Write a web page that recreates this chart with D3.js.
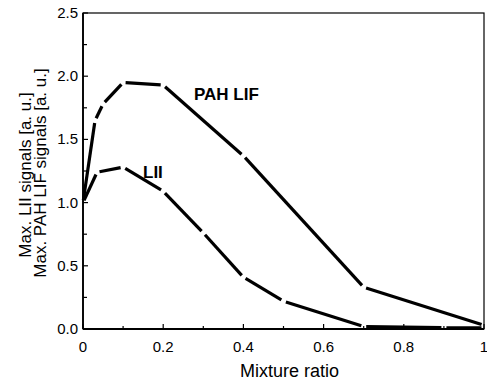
<!DOCTYPE html>
<html>
<head>
<meta charset="utf-8">
<script src="https://d3js.org/d3.v7.min.js"></script>
<style>
  body { margin: 0; background: #fff; }
  text { font-family: Arial, "Liberation Sans", sans-serif; fill: #000; }
</style>
</head>
<body>
<svg></svg>
<script>
// data
var pahX = [0, 0.03, 0.05, 0.1, 0.2, 0.4, 0.7, 1.0];
var pahY = [1.0, 1.65, 1.78, 1.95, 1.93, 1.37, 0.33, 0.03];
var liiX = [0, 0.035, 0.1, 0.2, 0.3, 0.4, 0.5, 0.7, 0.9, 1.0];
var liiY = [1.0, 1.24, 1.28, 1.09, 0.76, 0.41, 0.22, 0.02, 0.01, 0.01];
var xTicks = [0, 0.2, 0.4, 0.6, 0.8, 1];
var xTickLabels = ['0', '0.2', '0.4', '0.6', '0.8', '1'];
var yTicks = [0, 0.5, 1.0, 1.5, 2.0, 2.5];

var W = 487, H = 380;
var pl = 83, pr = 484, pt = 13, pb = 329;

var svg = d3.select('svg').attr('width', W).attr('height', H);

var x = d3.scaleLinear().domain([0, 1]).range([pl, pr]);
var y = d3.scaleLinear().domain([0, 2.5]).range([pb, pt]);

// frame
svg.append('rect')
    .attr('x', pl).attr('y', pt)
    .attr('width', pr - pl).attr('height', pb - pt)
    .attr('fill', 'none').attr('stroke', '#000').attr('stroke-width', 1.2);
svg.append('line') // heavier left/bottom
    .attr('x1', pl).attr('y1', pt).attr('x2', pl).attr('y2', pb)
    .attr('stroke', '#000').attr('stroke-width', 1.8);
svg.append('line')
    .attr('x1', pl).attr('y1', pb).attr('x2', pr).attr('y2', pb)
    .attr('stroke', '#000').attr('stroke-width', 1.8);

// inward ticks
var xt = d3.range(0, 1.0001, 0.1);
svg.selectAll('.xtick')
    .data(xt)
  .enter().append('line')
    .attr('x1', function(d) { return x(d); })
    .attr('x2', function(d) { return x(d); })
    .attr('y1', pb)
    .attr('y2', function(d, i) { return pb - (i % 2 ? 3 : 5); })
    .attr('stroke', '#000').attr('stroke-width', 1.2);

var yt = d3.range(0, 2.5001, 0.25);
svg.selectAll('.ytick')
    .data(yt)
  .enter().append('line')
    .attr('x1', pl)
    .attr('x2', function(d, i) { return pl + (i % 2 ? 4 : 5); })
    .attr('y1', function(d) { return y(d); })
    .attr('y2', function(d) { return y(d); })
    .attr('stroke', '#000').attr('stroke-width', 1.2);

// tick labels
svg.selectAll('.xlab')
    .data(xTicks)
  .enter().append('text')
    .attr('x', function(d) { return x(d); })
    .attr('y', pb + 23)
    .attr('text-anchor', 'middle')
    .style('font-size', '15px')
    .text(function(d, i) { return xTickLabels[i]; });

svg.selectAll('.ylab')
    .data(yTicks)
  .enter().append('text')
    .attr('x', pl - 5)
    .attr('y', function(d) { return y(d) + 5; })
    .attr('text-anchor', 'end')
    .style('font-size', '15px')
    .text(function(d) { return d.toFixed(1); });

// axis titles
svg.append('text')
    .attr('x', (pl + pr) / 2 + 6)
    .attr('y', 377)
    .attr('text-anchor', 'middle')
    .style('font-size', '18px')
    .text('Mixture ratio');

svg.append('text')
    .attr('transform', 'translate(31,175) rotate(-90)')
    .attr('text-anchor', 'middle')
    .style('font-size', '17px')
    .text('Max. LII signals [a. u.]');
svg.append('text')
    .attr('transform', 'translate(46,173) rotate(-90)')
    .attr('text-anchor', 'middle')
    .style('font-size', '17px')
    .text('Max. PAH LIF signals [a. u.]');

// curves: straight pieces between points with small gaps at each point
function segs(xs, ys) {
  var out = [];
  for (var i = 0; i < xs.length - 1; i++) {
    var x1 = x(xs[i]), y1 = y(ys[i]), x2 = x(xs[i + 1]), y2 = y(ys[i + 1]);
    var len = Math.hypot(x2 - x1, y2 - y1), g = 2.5;
    var ux = (x2 - x1) / len, uy = (y2 - y1) / len;
    out.push([x1 + ux * g, y1 + uy * g, x2 - ux * g, y2 - uy * g]);
  }
  return out;
}

[[pahX, pahY], [liiX, liiY]].forEach(function(s) {
  svg.append('g')
    .selectAll('line')
    .data(segs(s[0], s[1]))
    .enter().append('line')
      .attr('x1', function(d) { return d[0]; })
      .attr('y1', function(d) { return d[1]; })
      .attr('x2', function(d) { return d[2]; })
      .attr('y2', function(d) { return d[3]; })
      .attr('stroke', '#000')
      .attr('stroke-width', 3.2);
});

// series labels
svg.append('text')
    .attr('x', 194).attr('y', 100)
    .style('font-size', '17px').style('font-weight', 'bold')
    .text('PAH LIF');
svg.append('text')
    .attr('x', 143).attr('y', 178)
    .style('font-size', '17px').style('font-weight', 'bold')
    .text('LII');
</script>
</body>
</html>
